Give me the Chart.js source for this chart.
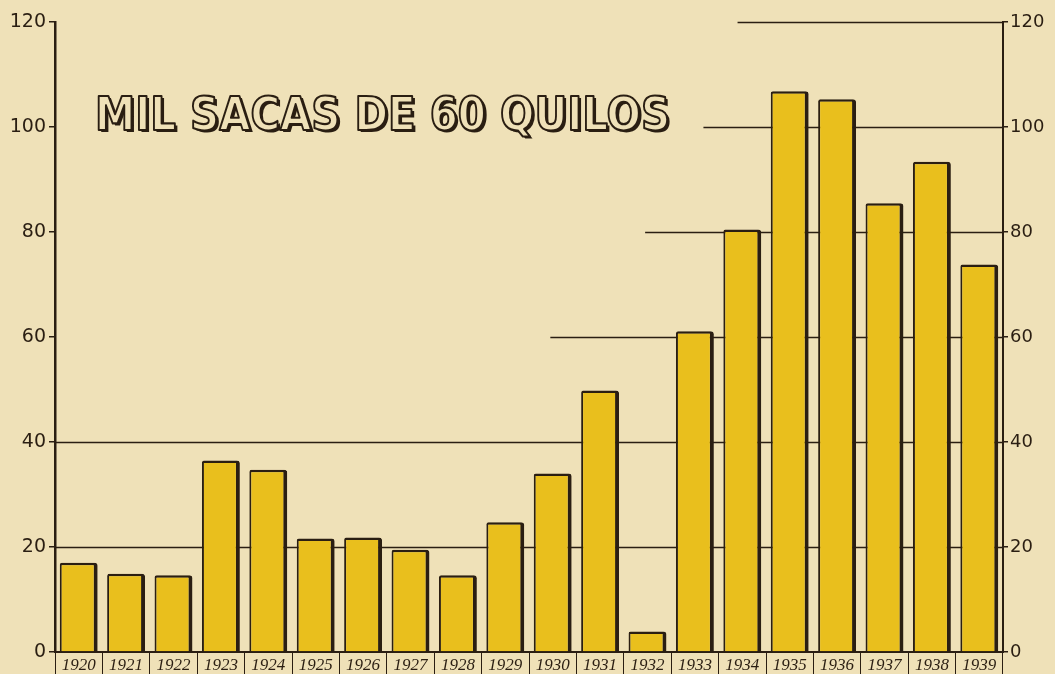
<!DOCTYPE html>
<html lang="pt">
<head>
  <meta charset="UTF-8" />
  <title>Mil sacas de 60 quilos</title>
  <script src="https://cdn.jsdelivr.net/npm/chart.js"></script>
  <style>
    html, body {
      margin: 0;
      padding: 0;
      background: #efe1b8;
      overflow: hidden;
    }
    .wrap {
      width: 1055px;
      height: 674px;
      position: relative;
    }
  </style>
</head>
<body>
  <div class="wrap">
    <canvas id="sacas"></canvas>
  </div>
  <script>
    const years = ["1920", "1921", "1922", "1923", "1924", "1925", "1926", "1927", "1928", "1929",
                   "1930", "1931", "1932", "1933", "1934", "1935", "1936", "1937", "1938", "1939"];
    const sacas = [17, 14.9, 14.6, 36.5, 34.7, 21.6, 21.8, 19.5, 14.6, 24.7,
                   34, 49.8, 3.9, 61.1, 80.5, 106.8, 105.3, 85.5, 93.4, 73.8];
    const yTicks = [0, 20, 40, 60, 80, 100, 120];
    // where each horizontal rule begins, in category units from the left axis
    const ruleStart = { 20: 0, 40: 0, 60: 10.45, 80: 12.45, 100: 13.68, 120: 14.4 };

    const ink = '#2a1e12';
    const paper = '#efe1b8';

    const rules = {
      id: 'rules',
      beforeDatasetsDraw(chart) {
        const { ctx, chartArea, scales } = chart;
        const y = scales.y;
        const cat = (chartArea.right - chartArea.left) / years.length;
        ctx.save();
        ctx.strokeStyle = ink;
        ctx.lineWidth = 1.6;
        yTicks.forEach(v => {
          if (!(v in ruleStart)) return;
          const py = Math.round(y.getPixelForValue(v)) + 0.5;
          ctx.beginPath();
          ctx.moveTo(chartArea.left + ruleStart[v] * cat, py);
          ctx.lineTo(chartArea.right, py);
          ctx.stroke();
        });
        ctx.restore();
      }
    };

    const heading = {
      id: 'heading',
      afterDraw(chart) {
        const { ctx } = chart;
        const txt = 'MIL SACAS DE 60 QUILOS';
        ctx.save();
        ctx.font = 'bold 47px "DejaVu Sans"';
        ctx.textBaseline = 'alphabetic';
        const w = ctx.measureText(txt).width;
        ctx.translate(95, 130);
        ctx.scale(575 / w, 1);
        ctx.lineJoin = 'round';
        // shadow
        ctx.fillStyle = ink;
        ctx.fillText(txt, 3, 2);
        ctx.fillStyle = paper;
        ctx.fillText(txt, 0, 0);
        ctx.strokeStyle = ink;
        ctx.lineWidth = 2.2;
        ctx.strokeText(txt, 0, 0);
        ctx.restore();
      }
    };

    new Chart(document.getElementById('sacas'), {
      type: 'bar',
      data: {
        labels: years,
        datasets: [{
          data: sacas,
          backgroundColor: '#e9bf1d',
          borderColor: ink,
          borderWidth: { top: 2.5, left: 2, right: 4, bottom: 0 },
          borderRadius: { topLeft: 2, topRight: 3 },
          borderSkipped: 'bottom',
          barPercentage: 0.8,
          categoryPercentage: 1
        }]
      },
      options: {
        responsive: true,
        maintainAspectRatio: false,
        animation: false,
        layout: { padding: { top: 22, left: 0, right: 0, bottom: 0 } },
        plugins: { legend: { display: false }, tooltip: { enabled: false } },
        scales: {
          x: {
            offset: true,
            grid: {
              offset: true,
              drawOnChartArea: false,
              drawTicks: true,
              tickLength: 22,
              color: ink,
              lineWidth: 1
            },
            border: { display: true, color: ink, width: 2 },
            ticks: {
              color: ink,
              padding: -19,
              maxRotation: 0,
              autoSkip: false,
              font: { family: '"Liberation Serif"', style: 'italic', size: 17 }
            },
            afterFit(s) { s.height = 22; }
          },
          y: {
            position: 'left',
            min: 0,
            max: 120,
            ticks: {
              stepSize: 20,
              color: ink,
              padding: 3,
              font: { family: '"DejaVu Sans"', size: 19 }
            },
            grid: { drawOnChartArea: false, tickLength: 6, color: ink, lineWidth: 1.5 },
            border: { display: true, color: ink, width: 2.5 },
            afterFit(s) { s.width = 55; }
          },
          y2: {
            position: 'right',
            min: 0,
            max: 120,
            ticks: {
              stepSize: 20,
              color: ink,
              padding: 2,
              font: { family: '"DejaVu Sans"', size: 18 }
            },
            grid: { drawOnChartArea: false, tickLength: 5, color: ink, lineWidth: 1.5 },
            border: { display: true, color: ink, width: 2 },
            afterFit(s) { s.width = 52; }
          }
        }
      },
      plugins: [rules, heading]
    });
  </script>
</body>
</html>
